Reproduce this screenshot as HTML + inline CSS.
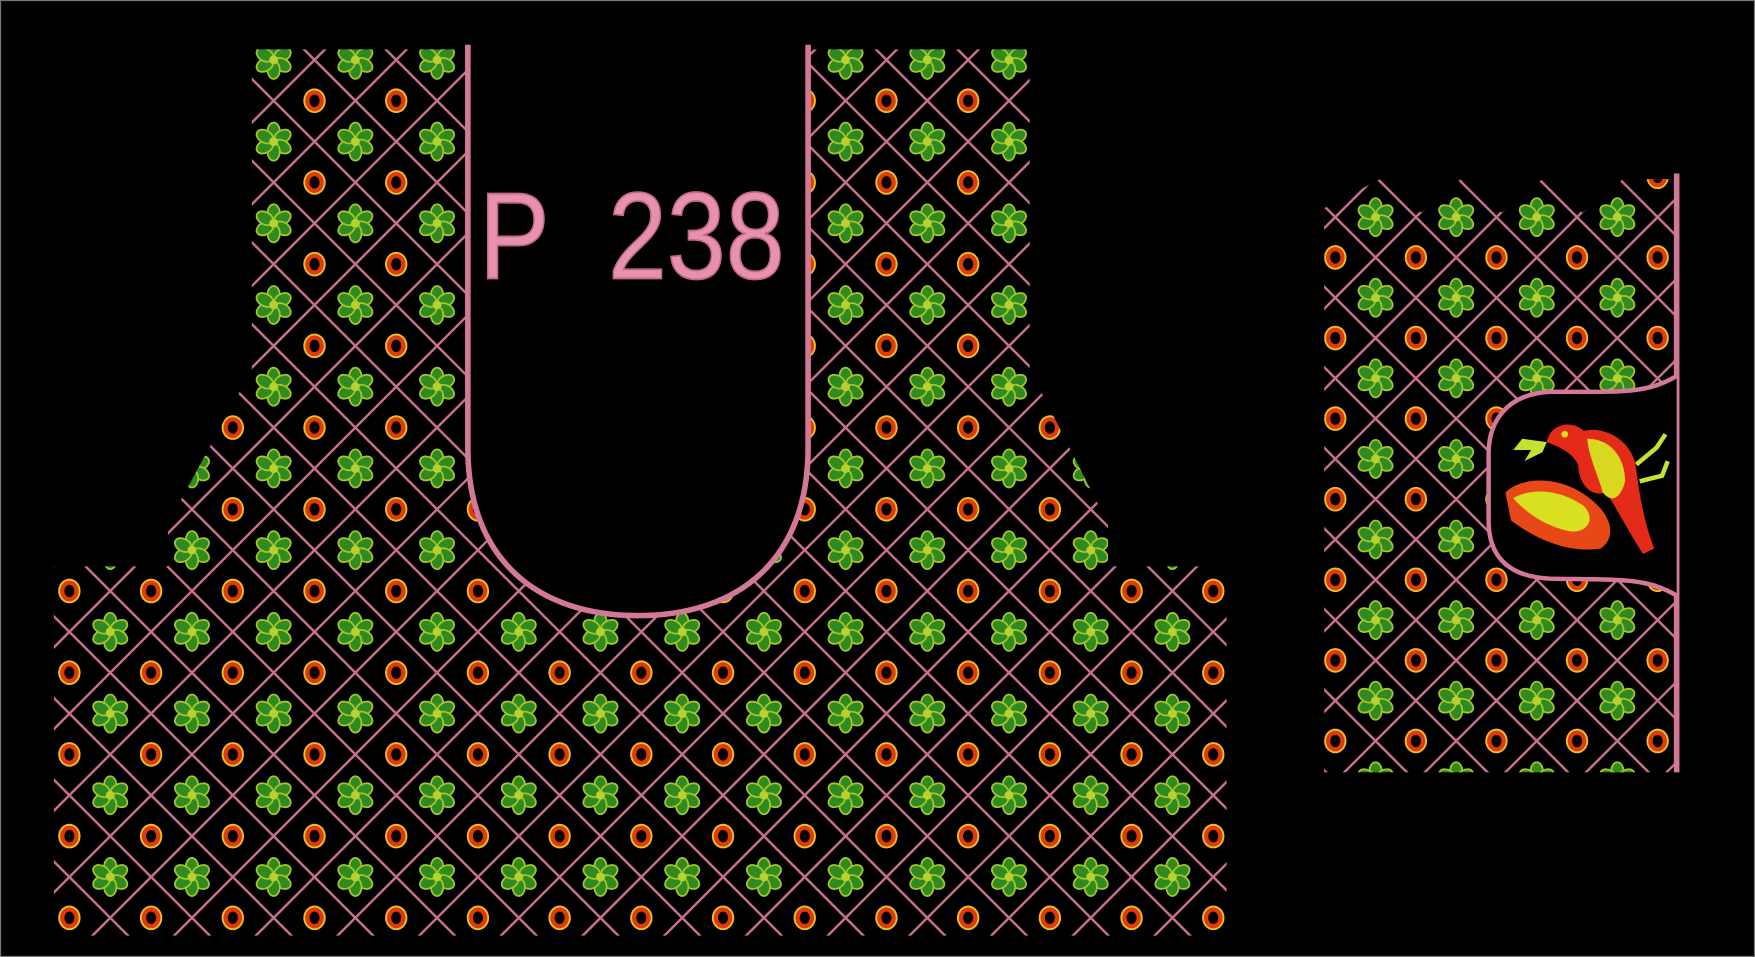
<!DOCTYPE html>
<html><head><meta charset="utf-8">
<style>
html,body{margin:0;padding:0;background:#000;overflow:hidden;width:1755px;height:957px}
svg{display:block;position:absolute;left:0;top:0}
</style></head>
<body>
<svg id="art" width="1755" height="957" viewBox="0 0 1568 855" preserveAspectRatio="none" xmlns="http://www.w3.org/2000/svg">
<defs>
<clipPath id="mainClip"><path d="M225,44 L920,44 L920,330 L990,468 L990,506 L1096,506 L1096,836 L48,836 L48,506 L150,506 L150,468 L225,330 Z"/></clipPath>
<clipPath id="sleeveClip"><path d="M1183,186 L1233,160 L1270,190 L1305,160 L1342,190 L1378,160 L1414,190 L1450,160 L1497,160 L1497,690 L1183,690 Z"/></clipPath>
<g id="flower">
<g fill="#2f8a22" stroke="#a6c628" stroke-width="1.6">
<ellipse cx="0" cy="-9" rx="5.5" ry="8"/>
<ellipse cx="0" cy="-9" rx="5.5" ry="8" transform="rotate(60)"/>
<ellipse cx="0" cy="-9" rx="5.5" ry="8" transform="rotate(120)"/>
<ellipse cx="0" cy="-9" rx="5.5" ry="8" transform="rotate(180)"/>
<ellipse cx="0" cy="-9" rx="5.5" ry="8" transform="rotate(240)"/>
<ellipse cx="0" cy="-9" rx="5.5" ry="8" transform="rotate(300)"/>
</g>
<circle r="4" fill="#b8d030"/>
</g>
<g id="ring">
<ellipse rx="10" ry="11" fill="#e8c020"/>
<ellipse rx="8.3" ry="9.3" fill="#e03810"/>
<ellipse rx="4.5" ry="5.5" fill="#000"/>
</g>
</defs>
<rect x="0" y="0" width="1568" height="855" fill="#000" stroke="#777" stroke-width="2"/>
<g id="mainPiece" clip-path="url(#mainClip)"></g>
<path d="M418,40 L418,400 C418,500 480,550 570,550 C660,550 722,500 722,400 L722,40" fill="#000" stroke="#d47898" stroke-width="5"/>
<g transform="translate(428,249) scale(0.86,1)">
<text x="0" y="0" font-family="Liberation Sans, sans-serif" font-size="110" fill="#e890b0" stroke="#c06888" stroke-width="1.5">P</text>
<text x="134" y="0" font-family="Liberation Sans, sans-serif" font-size="110" fill="#e890b0" stroke="#c06888" stroke-width="1.5">238</text>
</g>
<g id="sleevePiece" clip-path="url(#sleeveClip)"></g>
<line x1="1498" y1="155" x2="1498" y2="690" stroke="#d47898" stroke-width="5"/>
<path d="M1498,336 C1470,352 1450,350 1385,350 C1345,352 1330,378 1330,405 L1330,465 C1330,495 1345,515 1385,517 C1450,518 1470,516 1498,532" fill="#000" stroke="#d47898" stroke-width="4"/>
<g>
<path d="M1382,395 C1385,378 1405,375 1415,385 C1435,380 1460,395 1462,420 C1465,445 1470,470 1478,490 L1468,495 C1455,475 1445,455 1435,440 C1420,445 1410,430 1410,415 C1405,405 1395,400 1382,395 Z" fill="#e42a18"/>
<path d="M1418,392 C1440,392 1452,410 1452,430 C1448,445 1440,450 1432,440 C1428,425 1420,410 1418,392 Z" fill="#d8d820"/>
<path d="M1345,440 C1360,425 1395,425 1420,445 C1440,460 1445,480 1430,490 C1400,495 1370,480 1350,465 Z" fill="#e84818"/>
<path d="M1352,445 C1370,435 1395,438 1415,452 C1425,462 1420,475 1405,475 C1385,472 1365,460 1352,445 Z" fill="#d8e020"/>
<path d="M1382,395 L1360,392 L1352,402 L1368,402 L1362,412 L1378,404 Z" fill="#c8e030"/>
<path d="M1462,415 L1480,400 L1488,388 M1465,430 L1485,425 L1490,412" stroke="#c8e030" stroke-width="4" fill="none"/>
<circle cx="1398" cy="388" r="3" fill="#d8e020"/>
</g>
<script>
// lattice layout (displayed-unit grid)
const mainRows = [90,163,236,309,382,455,528,601,674,747,820];
const mainCols = [62,135,208,281,354,427,500,573,646,719,792,865,938,1011,1084];
const sleeveRows = [230,302,374,446,518,590,662];
const sleeveCols = [1193,1265,1337,1409,1481];
const NS='http://www.w3.org/2000/svg';
function buildLattice(gid, cols, rows, step, prefix){
  const g=document.getElementById(gid);
  const x0=cols[0], y0=rows[0], h=step/2;
  const ymin=y0-4*step, ymax=rows[rows.length-1]+4*step;
  for(let k=-40;k<=40;k++){
    const c=x0+h+ k*step;
    [1,-1].forEach(s=>{
      const l=document.createElementNS(NS,'line');
      
      
      l.setAttribute('x1', c + s*(ymin-y0)); l.setAttribute('y1', ymin);
      l.setAttribute('x2', c + s*(ymax-y0)); l.setAttribute('y2', ymax);
      l.setAttribute('stroke','#c8708e'); l.setAttribute('stroke-width','2.2');
      g.appendChild(l);
    });
  }
  const addUse=(id,x,y,name)=>{
    const u=document.createElementNS(NS,'use');
    
    
    u.setAttribute('href','#'+id);
    u.setAttribute('x',x); u.setAttribute('y',y);
    g.appendChild(u);
  };
  for(let j=-1;j<=rows.length;j++){
    for(let i=-1;i<=cols.length;i++){
      const x=x0+i*step, y=y0+j*step;
      addUse('ring',x,y,prefix+'-ring');
      addUse('flower',x+h,y-h,prefix+'-flower');
    }
  }
}
buildLattice('mainPiece', mainCols, mainRows, 73, 'main');
buildLattice('sleevePiece', sleeveCols, sleeveRows, 72, 'sleeve');
</script>
</svg>
</body></html>
